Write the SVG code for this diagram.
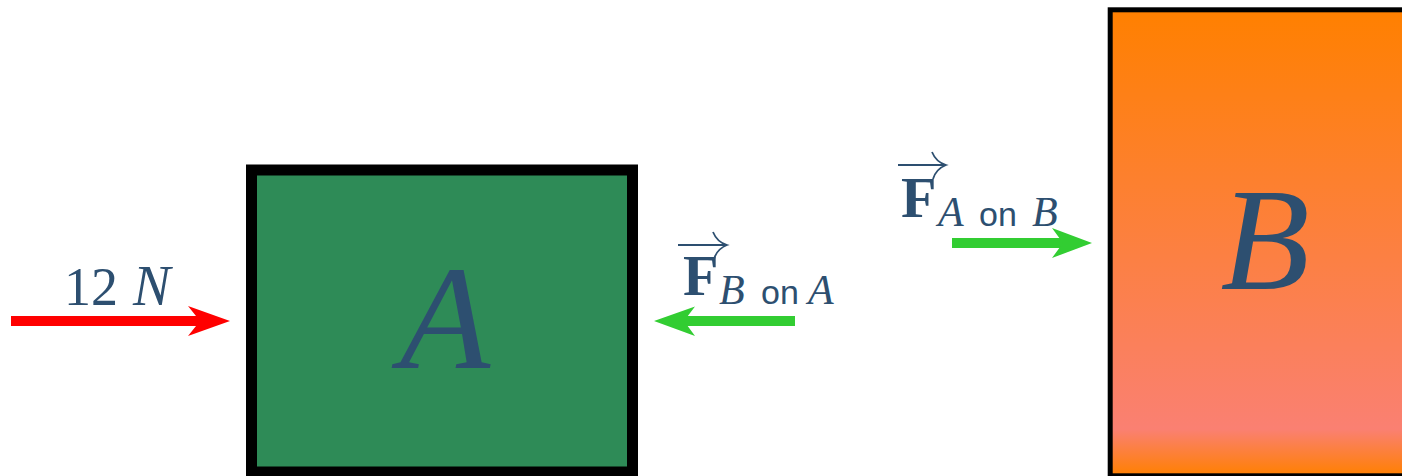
<svg xmlns="http://www.w3.org/2000/svg" width="1402" height="476" viewBox="0 0 1402 476">
<defs>
<linearGradient id="gB" x1="0" y1="0" x2="0" y2="1">
<stop offset="0" stop-color="#FF8000"/>
<stop offset="0.9" stop-color="#FA8072"/>
<stop offset="1" stop-color="#FF8000"/>
</linearGradient>
<style>
.math{font-family:"Liberation Serif","DejaVu Serif",serif;font-style:italic;fill:#2D4F70}
.num{font-family:"Liberation Serif","DejaVu Serif",serif;fill:#2D4F70}
.bold{font-family:"Liberation Serif","DejaVu Serif",serif;font-weight:bold;fill:#2D4F70}
.sans{font-family:"Liberation Sans","DejaVu Sans",sans-serif;fill:#2D4F70}
.vec{fill:none;stroke:#2D4F70;stroke-width:1.8}
.shaft{stroke-width:10;fill:none}
</style>
</defs>
<rect width="1402" height="476" fill="#FFFFFF"/>
<g id="boxA">
<rect x="251.5" y="170" width="381" height="302" fill="#2E8B57" stroke="#000000" stroke-width="11"/>
<text class="math" x="445" y="368" font-size="148" text-anchor="middle">A</text>
</g>
<g id="boxB">
<rect x="1110.2" y="9.8" width="300" height="466" fill="url(#gB)" stroke="#000000" stroke-width="5"/>
<text class="math" x="1265" y="289" font-size="146" text-anchor="middle">B</text>
</g>
<g id="connectors">
<g id="force12">
<line class="shaft" x1="11" y1="321" x2="205" y2="321" stroke="#FF0000"/>
<polygon points="230,321 188,306 200,321 188,336" fill="#FF0000"/>
</g>
<g id="forceBonA">
<line class="shaft" x1="683" y1="321" x2="795" y2="321" stroke="#32CD32"/>
<polygon points="654,321 695,306.5 684,321 695,336" fill="#32CD32"/>
</g>
<g id="forceAonB">
<line class="shaft" x1="952" y1="243" x2="1067" y2="243" stroke="#32CD32"/>
<polygon points="1092,243 1052,228 1063,243 1052,258" fill="#32CD32"/>
</g>
</g>
<g id="labels">
<g id="label12N">
<text class="num" x="64" y="305" font-size="54">12</text>
<text class="math" x="133" y="305" font-size="56">N</text>
</g>
<g id="labelBonA">
<path class="vec" d="M678,245 H726 M713,232 Q717,242 727,245 Q717,249 714,259"/>
<text class="bold" x="683" y="295" font-size="58">F</text>
<text class="math" x="719" y="304" font-size="42">B</text>
<text class="sans" x="761" y="304" font-size="34">on</text>
<text class="math" x="808" y="304" font-size="42">A</text>
</g>
<g id="labelAonB">
<path class="vec" d="M898,165 H945 M932,152 Q936,162 946,165 Q936,169 933,179"/>
<text class="bold" x="901" y="217" font-size="58">F</text>
<text class="math" x="938" y="226" font-size="42">A</text>
<text class="sans" x="979" y="226" font-size="34">on</text>
<text class="math" x="1032" y="226" font-size="42">B</text>
</g>
</g>
</svg>
